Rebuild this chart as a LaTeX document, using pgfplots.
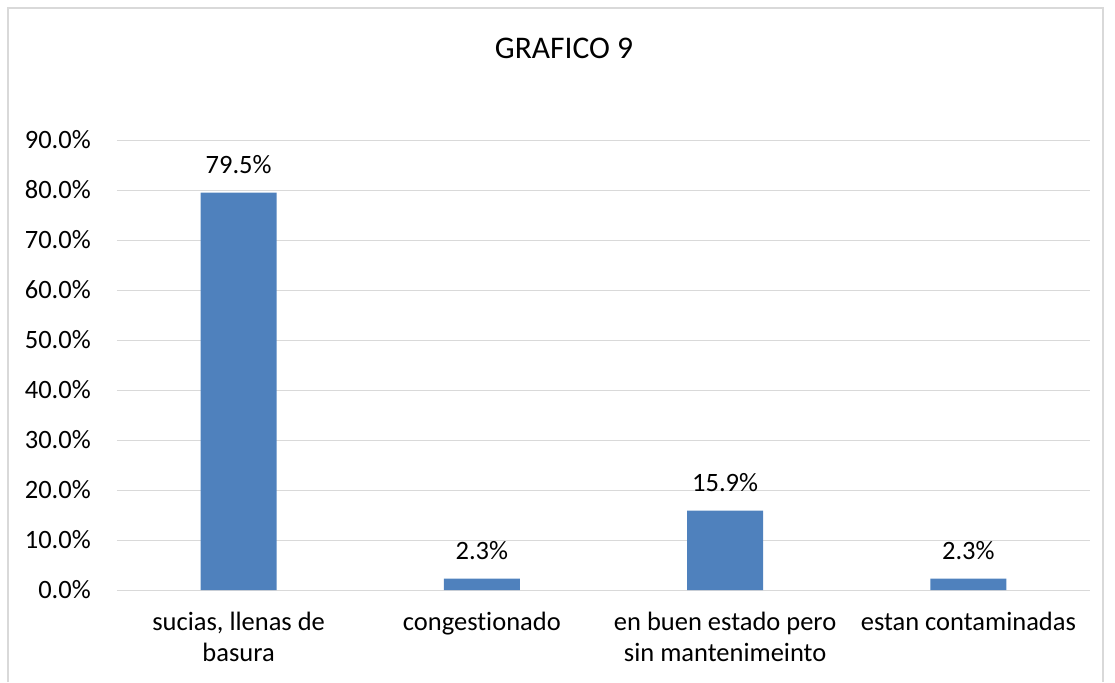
\documentclass[border=0pt]{standalone}
\usepackage{pgfplots}
\pgfplotsset{compat=1.18}
\usepackage{fontspec}
\setmainfont{Carlito}[Ligatures=NoCommon]
\definecolor{barblue}{HTML}{4F81BD}
\definecolor{gridgray}{HTML}{D9D9D9}
\begin{document}
\begin{tikzpicture}
\begin{axis}[
    name=ax,
    scale only axis,
    width=973bp, height=450bp,
    ybar, bar width=76bp,
    ymin=0, ymax=90, ytick={0,10,...,90},
    xmin=-0.5, xmax=3.5,
    xtick=data,
    xticklabels={{sucias, llenas de\\basura},{congestionado},{en buen estado pero\\sin mantenimeinto},{estan contaminadas}},
    axis line style={draw=none},
    major tick length=0pt,
    ymajorgrids, major grid style={gridgray, line width=1bp},
    /pgf/number format/assume math mode=true,
    yticklabel={\pgfmathprintnumber[fixed,fixed zerofill,precision=1]{\tick}\%},
    yticklabel style={anchor=east, inner sep=0pt, xshift=-26bp, font=\fontsize{26.5bp}{31bp}\selectfont},
    xticklabel style={anchor=north, inner sep=0pt, yshift=-21.5bp, align=center, font=\fontsize{26.5bp}{31bp}\selectfont},
    nodes near coords={\pgfmathprintnumber[fixed,fixed zerofill,precision=1]{\pgfplotspointmeta}\%},
    nodes near coords style={anchor=base, inner sep=0pt, yshift=19.5bp, font=\fontsize{26.5bp}{31bp}\selectfont, text=black},
    clip=false,
]
\addplot[fill=barblue, draw=none] coordinates {(0,79.5) (1,2.3) (2,15.9) (3,2.3)};
\end{axis}
\path ([xshift=-117bp,yshift=-92bp]ax.south west) rectangle ([xshift=998bp,yshift=590bp]ax.south west);
\draw[gridgray, line width=1.2bp] ([xshift=-109bp,yshift=-92bp]ax.south west) -- ([xshift=-109bp,yshift=582bp]ax.south west) -- ([xshift=986bp,yshift=582bp]ax.south west) -- ([xshift=986bp,yshift=-92bp]ax.south west);
\node[anchor=base, inner sep=0pt, font=\fontsize{31.5bp}{37bp}\selectfont] at ([xshift=447bp,yshift=531bp]ax.south west) {GRAFICO 9};
\end{tikzpicture}
\end{document}
